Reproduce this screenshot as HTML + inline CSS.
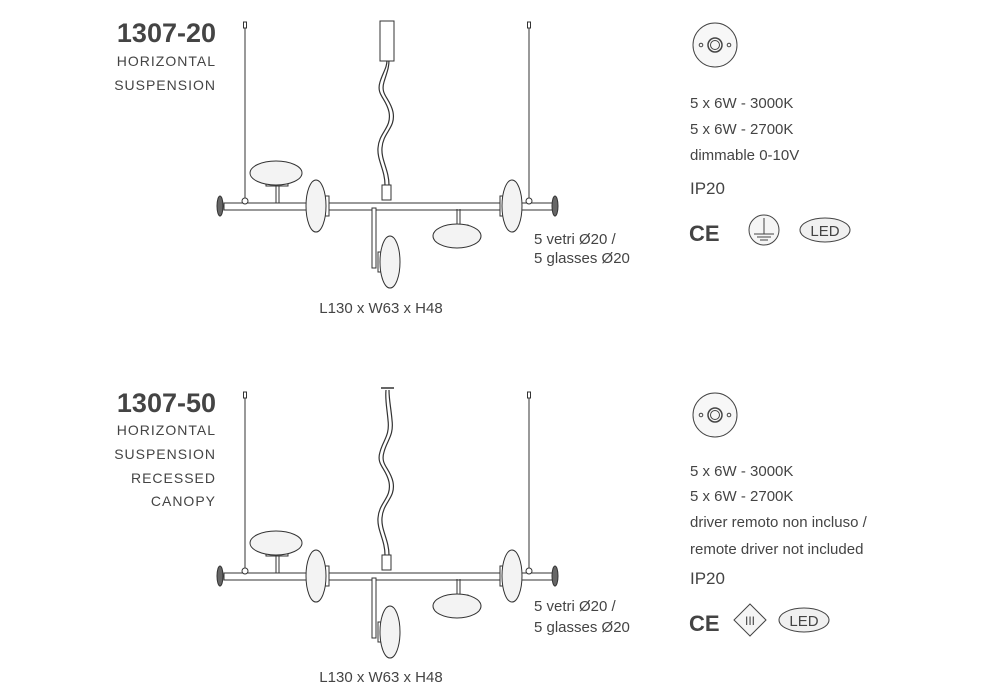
<!DOCTYPE html>
<html><head><meta charset="utf-8"><style>
html,body{margin:0;padding:0;background:#fff;}
svg{display:block;}
text{font-family:"Liberation Sans",sans-serif;fill:#444;}
</style></head><body>
<svg width="1000" height="700" viewBox="0 0 1000 700">
<defs>
<g id="lamp" fill="#f3f3f3" stroke="#333" stroke-width="1">
  <line x1="245" y1="24" x2="245" y2="198"/>
  <rect x="243.5" y="22" width="3" height="6" fill="#fff"/>
  <line x1="529" y1="24" x2="529" y2="198"/>
  <rect x="527.5" y="22" width="3" height="6" fill="#fff"/>
  <rect x="224" y="203" width="329" height="7" fill="#fff"/>
  <ellipse cx="220" cy="206" rx="3" ry="10" fill="#666"/>
  <ellipse cx="555" cy="206" rx="3" ry="10" fill="#666"/>
  <circle cx="245" cy="201" r="3" fill="#fff"/>
  <circle cx="529" cy="201" r="3" fill="#fff"/>
  <rect x="382" y="185" width="9" height="15" fill="#fff"/>
  <line x1="276" y1="185" x2="276" y2="203"/>
  <line x1="279" y1="185" x2="279" y2="203"/>
  <rect x="266" y="183" width="22" height="3" fill="#fff"/>
  <ellipse cx="276" cy="173" rx="26" ry="12"/>
  <rect x="325" y="196" width="4" height="20" fill="#fff"/>
  <ellipse cx="316" cy="206" rx="10" ry="26"/>
  <rect x="372" y="208" width="4" height="60" fill="#fff"/>
  <rect x="378" y="252" width="3" height="20" fill="#fff"/>
  <ellipse cx="390" cy="262" rx="10" ry="26"/>
  <line x1="457" y1="209" x2="457" y2="226"/>
  <line x1="460" y1="209" x2="460" y2="226"/>
  <rect x="448" y="225" width="20" height="3" fill="#fff"/>
  <ellipse cx="457" cy="236" rx="24" ry="12"/>
  <rect x="500" y="196" width="4" height="20" fill="#fff"/>
  <ellipse cx="512" cy="206" rx="10" ry="26"/>
</g>
<g id="dimmer" fill="none" stroke="#444">
  <circle cx="715" cy="0" r="22" fill="#f7f7f7"/>
  <circle cx="715" cy="0" r="7" stroke-width="1.5"/>
  <circle cx="715" cy="0" r="4.5"/>
  <circle cx="701" cy="0" r="1.8"/>
  <circle cx="729" cy="0" r="1.8"/>
</g>
</defs>

<!-- top -->
<use href="#lamp"/>
<g fill="none" stroke="#333" stroke-width="1.2">
  <path d="M385 185 C385 170 377 160 378 148 C379 132 392 128 389 112 C386 98 376 95 380 82 C383 72 387 68 387 60"/>
  <path d="M389 185 C389 170 381 160 382 148 C383 132 396 128 393 112 C390 98 380 95 384 82 C387 72 389 68 389 60"/>
</g>
<rect x="380" y="21" width="14" height="40" fill="#fff" stroke="#333"/>
<text x="216" y="42" text-anchor="end" font-size="27" font-weight="bold" fill="#333">1307-20</text>
<text x="216" y="66" text-anchor="end" font-size="14" letter-spacing="1">HORIZONTAL</text>
<text x="216" y="90" text-anchor="end" font-size="14" letter-spacing="1">SUSPENSION</text>
<text x="534" y="244" font-size="15">5 vetri Ø20 /</text>
<text x="534" y="263" font-size="15">5 glasses Ø20</text>
<text x="381" y="313" text-anchor="middle" font-size="15">L130 x W63 x H48</text>
<use href="#dimmer" y="45"/>
<text x="690" y="108" font-size="15">5 x 6W - 3000K</text>
<text x="690" y="134" font-size="15">5 x 6W - 2700K</text>
<text x="690" y="160" font-size="15">dimmable 0-10V</text>
<text x="690" y="194" font-size="17">IP20</text>
<text x="689" y="241" font-size="22" font-weight="bold" fill="#111">CE</text>
<g fill="none" stroke="#444"><circle cx="764" cy="230" r="15" fill="#f5f5f5"/>
<line x1="764" y1="218" x2="764" y2="234"/><line x1="754" y1="234" x2="774" y2="234"/><line x1="757" y1="237" x2="771" y2="237"/><line x1="760" y1="240" x2="768" y2="240"/>
<ellipse cx="825" cy="230" rx="25" ry="12" fill="#f0f0f0"/></g>
<text x="825" y="236" text-anchor="middle" font-size="15" fill="#222">LED</text>

<!-- bottom -->
<g transform="translate(0,370)"><use href="#lamp"/></g>
<g fill="none" stroke="#333" stroke-width="1.2">
  <path d="M385 555 C385 540 377 530 378 518 C379 502 392 498 389 482 C386 468 376 465 380 452 C383 440 390 436 388 420 C387 408 385 400 386 390"/>
  <path d="M389 555 C389 540 381 530 382 518 C383 502 396 498 393 482 C390 468 380 465 384 452 C387 440 394 436 392 420 C391 408 389 400 389 390"/>
</g>
<line x1="381" y1="388" x2="394" y2="388" stroke="#333" stroke-width="1.5"/>
<text x="216" y="412" text-anchor="end" font-size="27" font-weight="bold" fill="#333">1307-50</text>
<text x="216" y="435" text-anchor="end" font-size="14" letter-spacing="1">HORIZONTAL</text>
<text x="216" y="459" text-anchor="end" font-size="14" letter-spacing="1">SUSPENSION</text>
<text x="216" y="483" text-anchor="end" font-size="14" letter-spacing="1">RECESSED</text>
<text x="216" y="506" text-anchor="end" font-size="14" letter-spacing="1">CANOPY</text>
<text x="534" y="611" font-size="15">5 vetri Ø20 /</text>
<text x="534" y="632" font-size="15">5 glasses Ø20</text>
<text x="381" y="682" text-anchor="middle" font-size="15">L130 x W63 x H48</text>
<use href="#dimmer" y="415"/>
<text x="690" y="476" font-size="15">5 x 6W - 3000K</text>
<text x="690" y="501" font-size="15">5 x 6W - 2700K</text>
<text x="690" y="527" font-size="15">driver remoto non incluso /</text>
<text x="690" y="554" font-size="15">remote driver not included</text>
<text x="690" y="584" font-size="17">IP20</text>
<text x="689" y="631" font-size="22" font-weight="bold" fill="#111">CE</text>
<g fill="none" stroke="#444"><polygon points="750,604 766,620 750,636 734,620" fill="#f5f5f5"/>
<ellipse cx="804" cy="620" rx="25" ry="12" fill="#f0f0f0"/></g>
<text x="750" y="625" text-anchor="middle" font-size="12" font-family="Liberation Serif" fill="#222">III</text>
<text x="804" y="626" text-anchor="middle" font-size="15" fill="#222">LED</text>
</svg>
</body></html>
